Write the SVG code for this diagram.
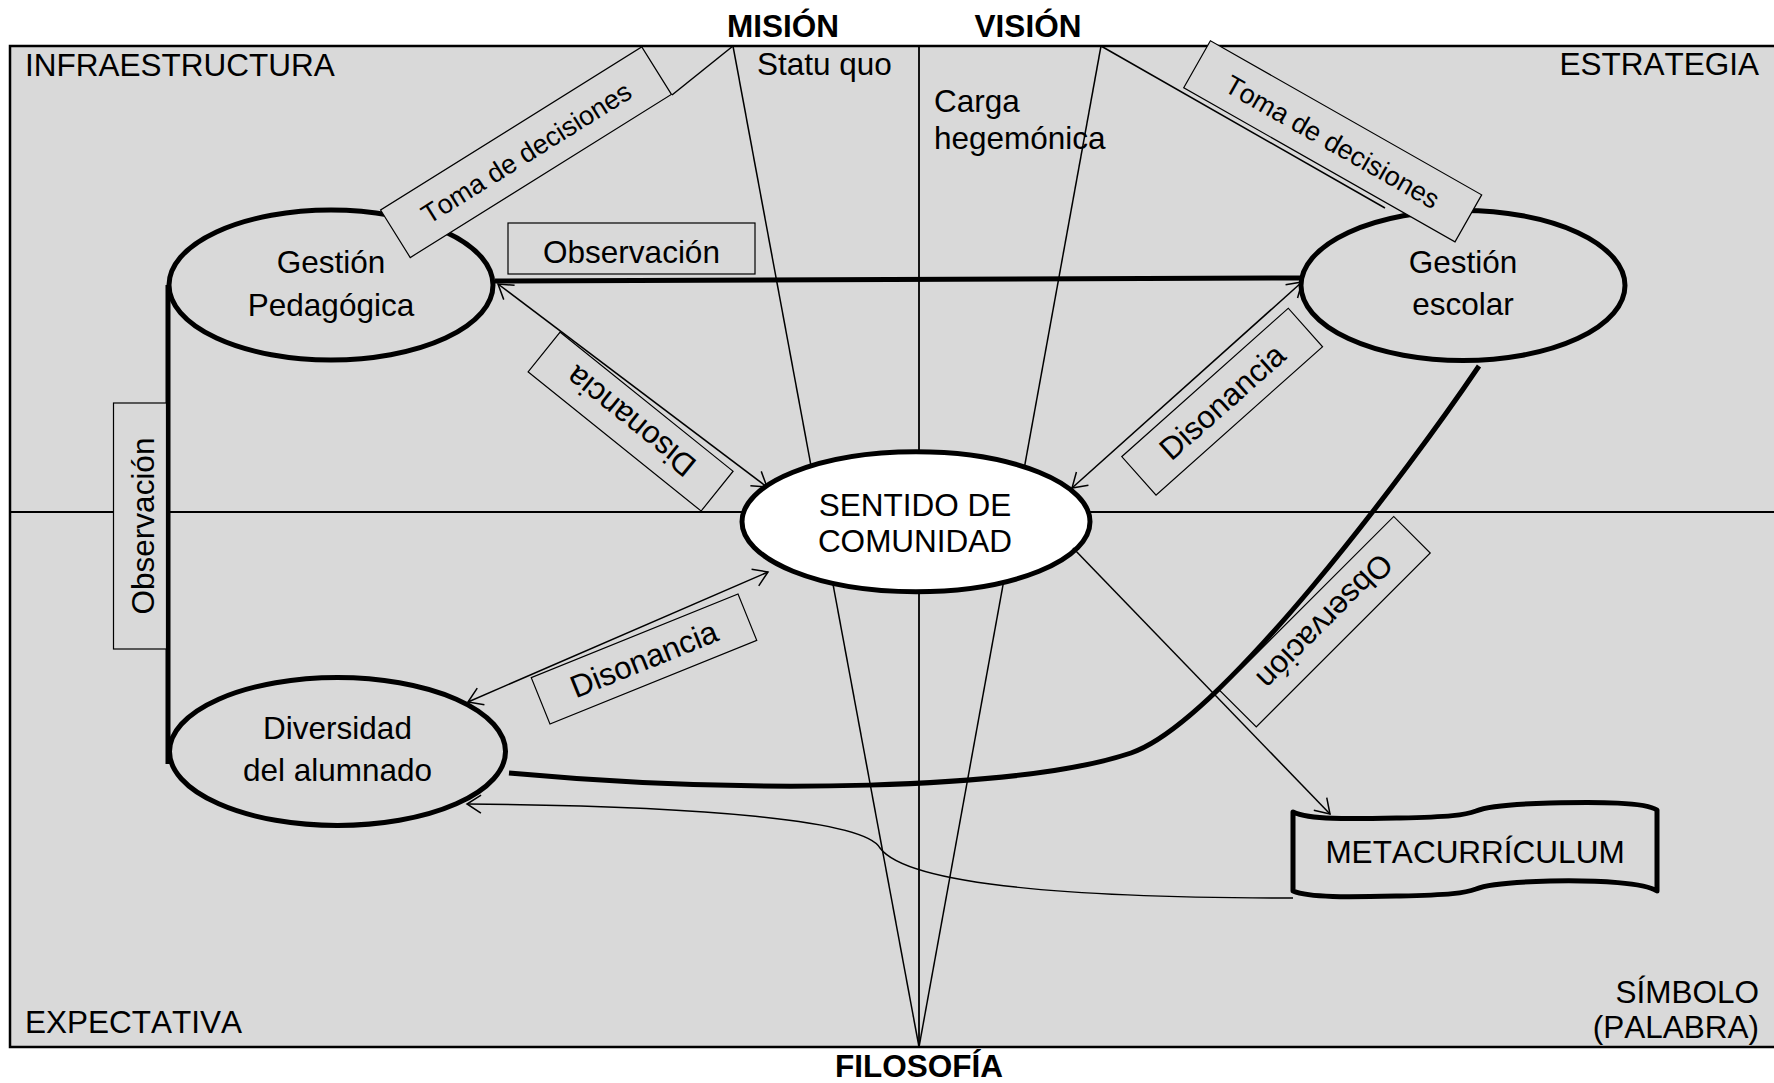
<svg xmlns="http://www.w3.org/2000/svg" width="1774" height="1083" viewBox="0 0 1774 1083">
<defs>
<style>
  text { font-family: "Liberation Sans", Arial, sans-serif; font-size: 31.5px; fill: #000; font-kerning: none; }
  .b { font-weight: bold; }
  .sm { font-size: 27px; }
  .mid { text-anchor: middle; }
  .end { text-anchor: end; }
  .axis { stroke: #000; stroke-width: 1.8; fill: none; }
  .thin { stroke: #000; stroke-width: 1.5; fill: none; }
  .thick { stroke: #000; stroke-width: 5; fill: none; }
  .node { fill: #d9d9d9; stroke: #000; stroke-width: 5; }
  .tag { fill: #d9d9d9; stroke: #000; stroke-width: 1.2; }
</style>
<marker id="arrow" viewBox="0 0 18 20" refX="16" refY="10" markerWidth="18" markerHeight="20" markerUnits="userSpaceOnUse" orient="auto-start-reverse">
  <path d="M2,1 L16,10 L2,19" fill="none" stroke="#000" stroke-width="1.5"/>
</marker>
</defs>

<rect width="1774" height="1083" fill="#fff"/>

<!-- frame with quadrant axes and the mission / vision / philosophy rays -->
<g id="frame">
  <rect x="10" y="46" width="1790" height="1001" fill="#d9d9d9" stroke="#000" stroke-width="2.5"/>
  <line class="axis" x1="919" y1="46" x2="919" y2="1047"/>
  <line class="axis" x1="10" y1="512" x2="1774" y2="512"/>
  <line class="thin" x1="733" y1="46" x2="919" y2="1047"/>
  <line class="thin" x1="1101" y1="46" x2="919" y2="1047"/>
  <text class="b mid" x="783" y="37">MISIÓN</text>
  <text class="b mid" x="1028" y="37">VISIÓN</text>
  <text class="b mid" x="919" y="1077">FILOSOFÍA</text>
  <text x="25" y="76">INFRAESTRUCTURA</text>
  <text x="757" y="75">Statu quo</text>
  <text x="934" y="112">Carga</text>
  <text x="934" y="149">hegemónica</text>
  <text class="end" x="1759" y="75">ESTRATEGIA</text>
  <text x="25" y="1033">EXPECTATIVA</text>
  <text class="end" x="1759" y="1003">SÍMBOLO</text>
  <text class="end" x="1759" y="1038">(PALABRA)</text>
</g>

<g id="gestion-pedagogica">
  <ellipse class="node" cx="331" cy="285" rx="162" ry="75"/>
  <text class="mid" x="331" y="273">Gestión</text>
  <text class="mid" x="331" y="316">Pedagógica</text>
</g>

<g id="gestion-escolar">
  <ellipse class="node" cx="1463" cy="285.5" rx="162" ry="75"/>
  <text class="mid" x="1463" y="273">Gestión</text>
  <text class="mid" x="1463" y="315">escolar</text>
</g>

<g id="diversidad-alumnado">
  <ellipse class="node" cx="337.5" cy="751.5" rx="168" ry="74"/>
  <text class="mid" x="337.5" y="739">Diversidad</text>
  <text class="mid" x="337.5" y="781">del alumnado</text>
</g>

<g id="sentido-comunidad">
  <ellipse cx="916" cy="521.7" rx="174" ry="70" fill="#fff" stroke="#000" stroke-width="5"/>
  <text class="mid" x="915" y="516">SENTIDO DE</text>
  <text class="mid" x="915" y="552">COMUNIDAD</text>
</g>

<g id="metacurriculum">
  <path d="M1293,812 C1310,820 1350,819 1400,818 C1450,817 1465,815 1476,811 C1488,806 1510,804 1550,803 C1600,802 1645,802 1657,810 L1657,891 C1645,883 1600,880 1550,881 C1510,882 1488,884 1476,889 C1465,893 1450,895 1400,896 C1350,897 1310,898 1293,891 Z" fill="#d9d9d9" stroke="#000" stroke-width="5" stroke-linejoin="round"/>
  <text class="mid" x="1475" y="863">METACURRÍCULUM</text>
</g>

<g id="connectors">
  <!-- observation links -->
  <line class="thick" x1="495" y1="281" x2="1300" y2="278"/>
  <line class="thick" x1="168" y1="285" x2="168" y2="764"/>
  <path class="thick" d="M509,773 C750,795 1020,790 1131,753 C1220,723 1410,468 1479,366"/>
  <!-- decision links towards mission and vision -->
  <line class="thin" x1="733" y1="46" x2="672" y2="95"/>
  <line class="thin" x1="1101" y1="46" x2="1385" y2="208"/>
  <!-- dissonance links -->
  <line class="thin" x1="498" y1="284" x2="767" y2="487" marker-start="url(#arrow)" marker-end="url(#arrow)"/>
  <line class="thin" x1="1302" y1="282" x2="1072" y2="488" marker-start="url(#arrow)" marker-end="url(#arrow)"/>
  <line class="thin" x1="468" y1="702" x2="768" y2="572" marker-start="url(#arrow)" marker-end="url(#arrow)"/>
  <!-- metacurriculum links -->
  <line class="thin" x1="1073" y1="548" x2="1330" y2="814" marker-end="url(#arrow)"/>
  <path class="thin" d="M1293,898 C1000,898 900,875 880,848 C865,820 700,806 467,804" marker-end="url(#arrow)"/>
</g>

<g id="labels">
  <g transform="translate(631.5,248)">
    <rect class="tag" x="-123.5" y="-25" width="247" height="51"/>
    <text class="mid" y="15">Observación</text>
  </g>
  <g transform="translate(140,526) rotate(-90)">
    <rect class="tag" x="-123" y="-26.5" width="246" height="53"/>
    <text class="mid" y="14">Observación</text>
  </g>
  <g transform="translate(1325,621.7) rotate(135)">
    <rect class="tag" x="-123" y="-25.8" width="246" height="51.6"/>
    <text class="mid" y="11">Observación</text>
  </g>
  <g transform="translate(526,152.2) rotate(-32)">
    <rect class="tag" x="-154" y="-28" width="308" height="56"/>
    <text class="sm mid" y="10">Toma de decisiones</text>
  </g>
  <g transform="translate(1332.7,141.3) rotate(29.6)">
    <rect class="tag" x="-156" y="-27" width="312" height="54"/>
    <text class="sm mid" y="10">Toma de decisiones</text>
  </g>
  <g transform="translate(630.6,421.6) rotate(38.8)">
    <rect class="tag" x="-111" y="-25.5" width="222" height="51"/>
    <text class="mid" transform="rotate(180)" y="11">Disonancia</text>
  </g>
  <g transform="translate(1222.2,401.7) rotate(-41.7)">
    <rect class="tag" x="-111.5" y="-25.8" width="223" height="51.5"/>
    <text class="mid" y="11">Disonancia</text>
  </g>
  <g transform="translate(644,659) rotate(-22)">
    <rect class="tag" x="-111.5" y="-25" width="223" height="50"/>
    <text class="mid" y="11">Disonancia</text>
  </g>
</g>
</svg>
